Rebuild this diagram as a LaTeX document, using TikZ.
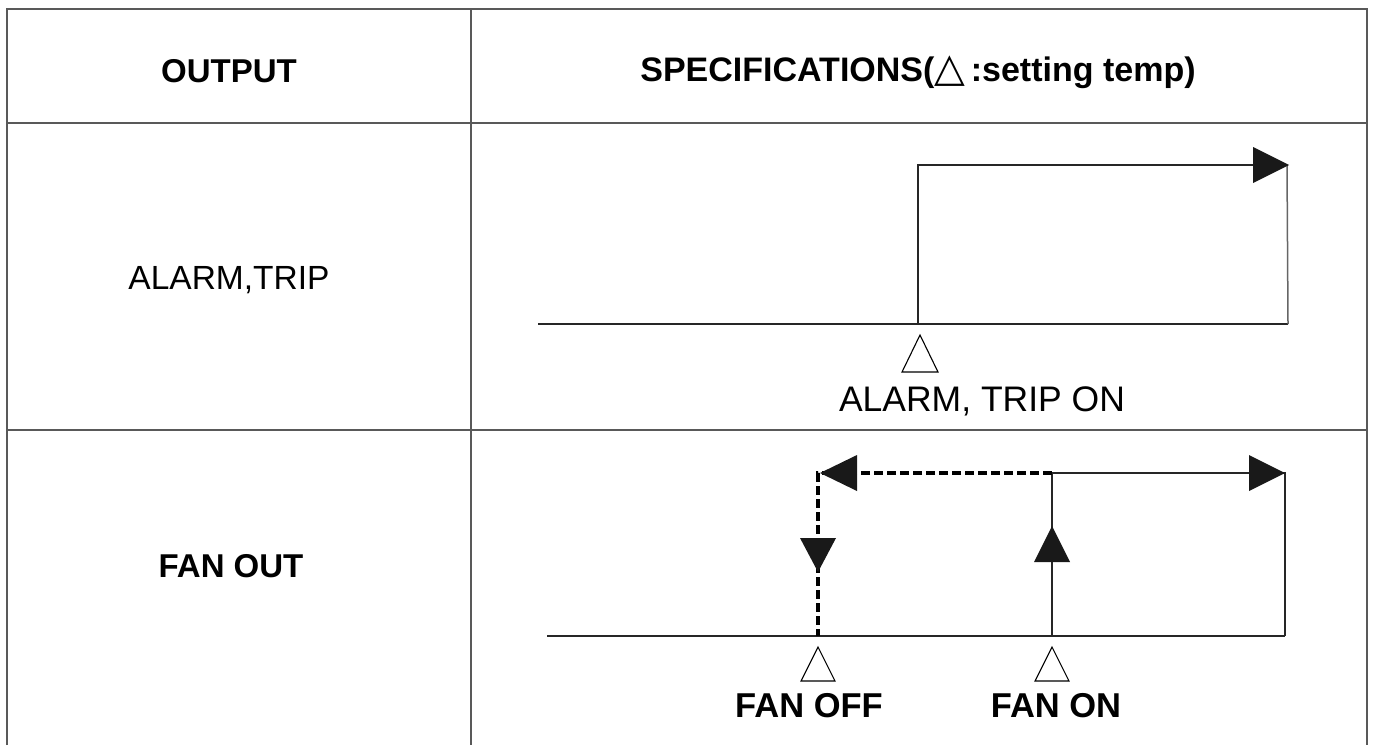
\documentclass[tikz,border=0pt]{standalone}
\usepackage{fontspec}
\setmainfont{Liberation Sans}
\newfontfamily\symfnt{DejaVu Sans}
\begin{document}
\begin{tikzpicture}[x=1pt,y=-1pt,
  grid/.style={draw=black!65,line width=1.8pt},
  wave/.style={draw=black!85,line width=1.5pt},
  dashwave/.style={draw=black,line width=3.4pt,dash pattern=on 9pt off 4pt},
  head/.style={fill=black!90,draw=none},
  tempmark/.style={draw=black,line width=1.1pt,fill=white},
  lbl/.style={inner sep=0pt,anchor=base,font=\fontsize{33}{36}\selectfont},
  blbl/.style={lbl,font=\fontsize{33}{36}\selectfont\bfseries}]
\useasboundingbox (0,0) rectangle (1375,745);
\fill[white] (0,0) rectangle (1375,745);
% table
\coordinate (tl) at (7,9); \coordinate (tr) at (1367,9);
\coordinate (bl) at (7,745); \coordinate (br) at (1367,745);
\coordinate (ct) at (471,9); \coordinate (cb) at (471,745);
\coordinate (h1l) at (7,123); \coordinate (h1r) at (1367,123);
\coordinate (h2l) at (7,430); \coordinate (h2r) at (1367,430);
\draw[grid] (bl) -- (tl) -- (tr) -- (br);
\draw[grid] (ct) -- (cb);
\draw[grid] (h1l) -- (h1r);
\draw[grid] (h2l) -- (h2r);
% header texts
\node[blbl] (hout) at (229,82) {OUTPUT};
\node[blbl,font=\fontsize{34}{36}\selectfont\bfseries] (hspec) at (918,81) {SPECIFICATIONS({\symfnt\mdseries\fontsize{40}{40}\selectfont △}\,:setting temp)};
\node[lbl,font=\fontsize{33.5}{36}\selectfont] (ralarm) at (229,289) {ALARM,TRIP};
\node[blbl] (rfan) at (231,577) {FAN OUT};
% ---- row 1: alarm
\coordinate (a0) at (538,324); \coordinate (a1) at (918,324);
\coordinate (a2) at (918,165); \coordinate (a3) at (1289,165);
\coordinate (a4) at (1288,324);
\draw[wave] (a0) -- (a4);
\draw[wave] (a1) -- (a2) -- (1255,165);
\draw[wave,draw=black!60] (1287,165) -- (a4);
\fill[head] (a3) -- (1253,147) -- (1253,183) -- cycle;
\draw[tempmark] (920,335) -- (938,372) -- (902,372) -- cycle;
\node[lbl,font=\fontsize{35.5}{38}\selectfont] (aon) at (982,411) {ALARM, TRIP ON};
% ---- row 2: fan
\coordinate (f0) at (547,636); \coordinate (foff) at (818,636);
\coordinate (fon) at (1052,636); \coordinate (fend) at (1285,636);
\coordinate (ftop) at (1052,473); \coordinate (ftr) at (1285,473);
\coordinate (ftl) at (818,473);
\draw[wave] (f0) -- (fend);
\draw[wave] (fon) -- (ftop) -- (ftr) -- (fend);
\draw[dashwave] (ftop) -- (ftl) -- (foff);
\fill[head] (ftr) -- (1249,455) -- (1249,491) -- cycle;
\fill[head] (820,473) -- (857,455) -- (857,491) -- cycle;
\fill[head] (818,572) -- (800,538) -- (836,538) -- cycle;
\fill[head] (1052,526) -- (1034,562) -- (1070,562) -- cycle;
\draw[tempmark] (818,647) -- (835,681) -- (801,681) -- cycle;
\draw[tempmark] (1052,647) -- (1069,681) -- (1035,681) -- cycle;
\node[blbl,font=\fontsize{34.5}{36}\selectfont\bfseries] (toff) at (809,717) {FAN OFF};
\node[blbl,font=\fontsize{34.5}{36}\selectfont\bfseries] (ton) at (1056,717) {FAN ON};
\end{tikzpicture}
\end{document}
